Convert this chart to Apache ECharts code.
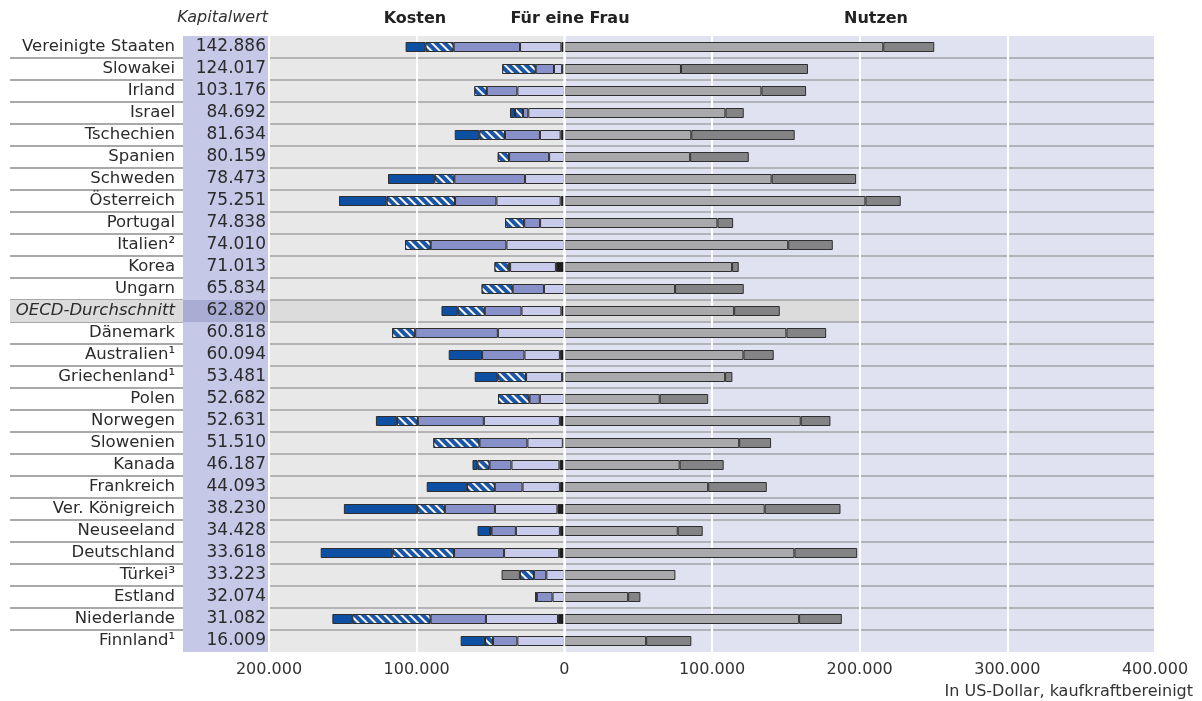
<!DOCTYPE html>
<html>
<head>
<meta charset="utf-8">
<script src="https://cdn.jsdelivr.net/npm/echarts@6/dist/echarts.min.js"></script>
<style>
  html, body { margin: 0; padding: 0; background: #fff; }
  #chart { width: 1202px; height: 701px; }
</style>
</head>
<body>
<div id="chart"></div>
<script>
// Länder, Reihenfolge wie in der Vorlage (von oben nach unten)
const countries = ['Vereinigte Staaten', 'Slowakei', 'Irland', 'Israel', 'Tschechien', 'Spanien', 'Schweden',
  'Österreich', 'Portugal', 'Italien²', 'Korea', 'Ungarn', 'OECD-Durchschnitt', 'Dänemark', 'Australien¹',
  'Griechenland¹', 'Polen', 'Norwegen', 'Slowenien', 'Kanada', 'Frankreich', 'Ver. Königreich', 'Neuseeland',
  'Deutschland', 'Türkei³', 'Estland', 'Niederlande', 'Finnland¹']
const kapitalwert = [142886, 124017, 103176, 84692, 81634, 80159, 78473, 75251, 74838, 74010, 71013, 65834,
  62820, 60818, 60094, 53481, 52682, 52631, 51510, 46187, 44093, 38230, 34428, 33618, 33223, 32074, 31082, 16009]

// Kosten (Beträge, werden nach links gezeichnet), von 0 aus nach außen
const kostenSchwarz = [2000, 1500, 0, 0, 2500, 0, 0, 2500, 0, 0, 5700, 0, 2000, 0, 3000, 1500, 0, 3000, 1000,
  3300, 3000, 4700, 3000, 3500, 0, 0, 4300, 0]
const kostenHell = [28000, 5500, 31800, 24400, 14000, 10300, 26600, 43500, 16400, 39200, 31000, 13800, 27000,
  45000, 24000, 24400, 16600, 51500, 24000, 32500, 25300, 42300, 29800, 37300, 12200, 8000, 48800, 31800]
const kostenMittel = [45000, 12400, 20700, 3600, 23700, 27100, 47900, 28000, 10800, 51300, 1000, 21200, 24900,
  56000, 28700, 0, 7000, 44700, 32500, 14900, 18800, 33900, 16500, 33900, 8400, 10600, 37500, 16500]
const kostenSchraffiert = [19000, 22600, 8400, 5400, 17300, 7700, 13500, 46300, 12900, 17400, 9600, 21000, 18300,
  15600, 0, 19400, 21300, 14200, 31200, 8100, 18700, 18700, 1000, 41700, 9500, 1200, 53000, 5400]
const kostenDunkel = [13500, 0, 0, 3400, 16700, 0, 31400, 32300, 0, 0, 0, 0, 11000, 0, 22600, 15400, 0, 14200,
  0, 3400, 27400, 49700, 8500, 48600, 0, 0, 13500, 16500]
const kostenGrau = [0, 0, 0, 0, 0, 0, 0, 0, 0, 0, 0, 0, 0, 0, 0, 0, 0, 0, 0, 0, 0, 0, 0, 0, 12400, 0, 0, 0]

// Nutzen
const nutzenHell = [216000, 79000, 133500, 109100, 86000, 85200, 140400, 203900, 103700, 151600, 113600, 75000,
  115000, 150400, 121300, 108900, 64600, 160100, 118400, 78100, 97400, 135700, 76800, 155800, 75200, 43200,
  159000, 55400]
const nutzenDunkel = [34500, 86000, 30200, 12400, 70000, 39700, 57200, 23900, 10600, 30200, 4500, 46500, 30900,
  26900, 20500, 4900, 32800, 20100, 21600, 29800, 39700, 51300, 16900, 42500, 0, 8300, 28900, 30600]

const xTicks = [-200000, 400000, 100000] // min, max, interval
const oecdIndex = countries.indexOf('OECD-Durchschnitt')

const font = '"DejaVu Sans", "Noto Sans", sans-serif'

function fmt (v) {
  return String(Math.abs(v)).replace(/\B(?=(\d{3})+(?!\d))/g, '.')
}
const neg = arr => arr.map(v => (v ? -v : null))
const pos = arr => arr.map(v => (v || null))

// Hintergrundflächen: [x0, x1, zeile0, zeile1]
const bands = [
  [xTicks[0], 0, 0, countries.length],
  [0, xTicks[1], 0, countries.length],
  [xTicks[0], -100000, oecdIndex, oecdIndex + 1],
  [0, 200000, oecdIndex, oecdIndex + 1]
]
const bandColors = ['#e8e8e8', '#e0e1f1', '#dcdcdc', '#dcdcdc']

const chart = echarts.init(document.getElementById('chart'))

const border = { borderColor: '#2e2e2e', borderWidth: 1 }
function barSeries (name, stack, data, color, extra) {
  return {
    name: name,
    type: 'bar',
    stack: stack,
    xAxisIndex: 0,
    yAxisIndex: 0,
    barWidth: 10,
    barGap: '-100%',
    data: data,
    itemStyle: Object.assign({ color: color }, border, extra || {})
  }
}

const option = {
  animation: false,
  textStyle: { fontFamily: font },
  grid: [
    { left: 269, right: 47, top: 36, bottom: 49, show: false },
    { left: 10, width: 173, top: 36, bottom: 49, show: false }
  ],
  xAxis: [{
    type: 'value',
    gridIndex: 0,
    min: xTicks[0],
    max: xTicks[1],
    interval: xTicks[2],
    axisLine: { show: false },
    axisTick: { show: false },
    splitLine: { show: true, lineStyle: { color: '#ffffff', width: 2 } },
    axisLabel: {
      margin: 10,
      fontSize: 16,
      color: '#333',
      fontFamily: font,
      formatter: v => fmt(v)
    }
  }, {
    type: 'value',
    gridIndex: 1,
    min: 0,
    max: 1,
    show: false
  }],
  yAxis: [{
    type: 'category',
    gridIndex: 0,
    data: countries,
    inverse: true,
    axisLine: { show: false },
    axisTick: { show: false },
    splitLine: {
      show: true,
      showMinLine: false,
      showMaxLine: false,
      lineStyle: { color: '#a3a3a6', width: 1.5 }
    },
    axisLabel: {
      interval: 0,
      margin: 1,
      formatter: (value, idx) => idx === oecdIndex
        ? '{no|' + value + '}{vo|' + fmt(kapitalwert[idx]) + '}'
        : '{n|' + value + '}{v|' + fmt(kapitalwert[idx]) + '}',
      rich: {
        n: { width: 165, height: 22, align: 'right', padding: [0, 8, 0, 0], fontSize: 16.5, color: '#2b2b2b', fontFamily: font },
        no: { width: 165, height: 22, align: 'right', padding: [0, 8, 0, 0], fontSize: 16.5, color: '#2b2b2b', fontFamily: font, fontStyle: 'italic', backgroundColor: '#dcdcdc' },
        v: { width: 83, height: 22, align: 'right', padding: [0, 2, 0, 0], fontSize: 17, color: '#2b2b2b', fontFamily: font, backgroundColor: '#c5c8e6' },
        vo: { width: 83, height: 22, align: 'right', padding: [0, 2, 0, 0], fontSize: 17, color: '#2b2b2b', fontFamily: font, backgroundColor: '#a9acd3' }
      }
    }
  }, {
    type: 'value',
    gridIndex: 0,
    min: 0,
    max: countries.length,
    inverse: true,
    show: false
  }, {
    type: 'category',
    gridIndex: 1,
    data: countries,
    inverse: true,
    axisLine: { show: false },
    axisTick: { show: false },
    axisLabel: { show: false },
    splitLine: {
      show: true,
      showMinLine: false,
      showMaxLine: false,
      lineStyle: { color: '#8c8c8c', width: 1.5 }
    }
  }],
  series: [
    {
      type: 'custom',
      xAxisIndex: 0,
      yAxisIndex: 1,
      z: -1,
      silent: true,
      encode: { x: [0, 1], y: [2, 3] },
      data: bands,
      renderItem: function (params, api) {
        const p0 = api.coord([api.value(0), api.value(2)])
        const p1 = api.coord([api.value(1), api.value(3)])
        return {
          type: 'rect',
          shape: { x: p0[0], y: p0[1], width: p1[0] - p0[0], height: p1[1] - p0[1] },
          style: { fill: bandColors[params.dataIndex] }
        }
      }
    },
    barSeries('Kosten schwarz', 'kosten', neg(kostenSchwarz), '#1e1e1e'),
    barSeries('Kosten hell', 'kosten', neg(kostenHell), '#c8cbeb'),
    barSeries('Kosten mittel', 'kosten', neg(kostenMittel), '#8790c8'),
    barSeries('Kosten schraffiert', 'kosten', neg(kostenSchraffiert), '#1b55a6', {
      decal: {
        symbol: 'rect',
        symbolSize: 1,
        color: 'rgba(255,255,255,0.95)',
        dashArrayX: [1, 0],
        dashArrayY: [2, 4],
        rotation: Math.PI / 4
      }
    }),
    barSeries('Kosten dunkel', 'kosten', neg(kostenDunkel), '#0d4fa3'),
    barSeries('Kosten grau', 'kosten', neg(kostenGrau), '#858587'),
    barSeries('Nutzen hell', 'nutzen', pos(nutzenHell), '#a9a9ab'),
    barSeries('Nutzen dunkel', 'nutzen', pos(nutzenDunkel), '#848486'),
    {
      // weiße Nulllinie über den Balken
      type: 'custom',
      xAxisIndex: 0,
      yAxisIndex: 1,
      z: 5,
      silent: true,
      data: [[0]],
      renderItem: function (params, api) {
        const a = api.coord([api.value(0), 0])
        const b = api.coord([api.value(0), countries.length])
        return {
          type: 'line',
          shape: { x1: a[0], y1: a[1], x2: b[0], y2: b[1] },
          style: { stroke: '#ffffff', lineWidth: 2 }
        }
      }
    }
  ],
  graphic: [
    { type: 'text', x: 268, y: 18, style: { text: 'Kapitalwert', align: 'right', verticalAlign: 'middle', font: 'italic 16px ' + font, fill: '#333' } },
    { type: 'text', x: 415, y: 19, style: { text: 'Kosten', align: 'center', verticalAlign: 'middle', font: 'bold 16px ' + font, fill: '#222' } },
    { type: 'text', x: 570, y: 19, style: { text: 'Für eine Frau', align: 'center', verticalAlign: 'middle', font: 'bold 16px ' + font, fill: '#222' } },
    { type: 'text', x: 876, y: 19, style: { text: 'Nutzen', align: 'center', verticalAlign: 'middle', font: 'bold 16px ' + font, fill: '#222' } },
    { type: 'text', x: 1193, y: 692, style: { text: 'In US-Dollar, kaufkraftbereinigt', align: 'right', verticalAlign: 'middle', font: '16px ' + font, fill: '#333' } }
  ]
}

chart.setOption(option)
</script>
</body>
</html>
